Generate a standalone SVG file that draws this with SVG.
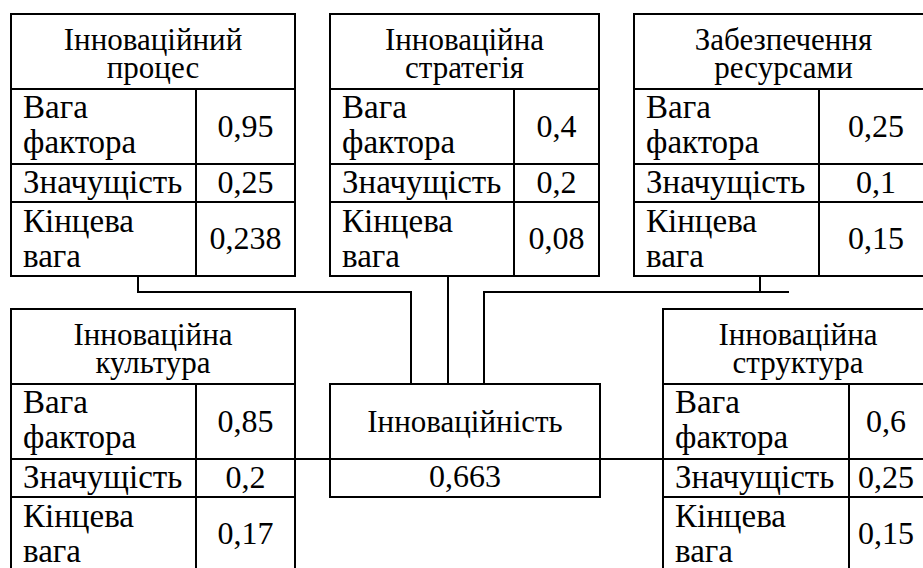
<svg xmlns="http://www.w3.org/2000/svg" width="923" height="568" viewBox="0 0 923 568">
  <style>
    .box { fill: #fff; stroke: #000; stroke-width: 2; }
    .rule { stroke: #000; stroke-width: 2; fill: none; }
    .wire { stroke: #000; stroke-width: 2; fill: none; }
    text { font-family: "Liberation Serif", "Times New Roman", serif; font-size: 33px; fill: #000; }
    .h { text-anchor: middle; font-size: 31px; }
    .c { text-anchor: middle; font-size: 32px; }
  </style>
  <rect width="923" height="568" fill="#fff"/>

  <!-- connectors -->
  <g id="connectors">
    <path class="wire" d="M138 276 V292 H411 V384"/>
    <path class="wire" d="M448 276 V384"/>
    <path class="wire" d="M760 276 V292"/>
    <path class="wire" d="M789 292 H484 V384"/>
    <path class="wire" d="M295 459 H663"/>
  </g>

  <!-- Інноваційний процес -->
  <g id="process">
    <rect class="box" x="11" y="14" width="284" height="262"/>
    <path class="rule" d="M11 89 H295 M11 164 H295 M11 202 H295 M196 89 V276"/>
    <text class="h" x="153" y="50">Інноваційний</text>
    <text class="h" x="153" y="78">процес</text>
    <text x="23" y="118">Вага</text>
    <text x="23" y="153">фактора</text>
    <text class="c" x="245.5" y="137">0,95</text>
    <text x="23" y="193">Значущість</text>
    <text class="c" x="245.5" y="193">0,25</text>
    <text x="23" y="232">Кінцева</text>
    <text x="23" y="267">вага</text>
    <text class="c" x="245.5" y="249">0,238</text>
  </g>

  <!-- Інноваційна стратегія -->
  <g id="strategy">
    <rect class="box" x="330" y="14" width="269" height="262"/>
    <path class="rule" d="M330 89 H599 M330 164 H599 M330 202 H599 M514 89 V276"/>
    <text class="h" x="464.5" y="50">Інноваційна</text>
    <text class="h" x="464.5" y="78">стратегія</text>
    <text x="342" y="118">Вага</text>
    <text x="342" y="153">фактора</text>
    <text class="c" x="556.5" y="137">0,4</text>
    <text x="342" y="193">Значущість</text>
    <text class="c" x="556.5" y="193">0,2</text>
    <text x="342" y="232">Кінцева</text>
    <text x="342" y="267">вага</text>
    <text class="c" x="556.5" y="249">0,08</text>
  </g>

  <!-- Забезпечення ресурсами -->
  <g id="resources">
    <rect class="box" x="634" y="14" width="299" height="262"/>
    <path class="rule" d="M634 89 H933 M634 164 H933 M634 202 H933 M819 89 V276"/>
    <text class="h" x="783.5" y="50">Забезпечення</text>
    <text class="h" x="783.5" y="78">ресурсами</text>
    <text x="646" y="118">Вага</text>
    <text x="646" y="153">фактора</text>
    <text class="c" x="876" y="137">0,25</text>
    <text x="646" y="193">Значущість</text>
    <text class="c" x="876" y="193">0,1</text>
    <text x="646" y="232">Кінцева</text>
    <text x="646" y="267">вага</text>
    <text class="c" x="876" y="249">0,15</text>
  </g>

  <!-- Інноваційна культура -->
  <g id="culture">
    <rect class="box" x="11" y="309" width="284" height="262"/>
    <path class="rule" d="M11 384 H295 M11 459 H295 M11 497 H295 M196 384 V571"/>
    <text class="h" x="153" y="345">Інноваційна</text>
    <text class="h" x="153" y="373">культура</text>
    <text x="23" y="413">Вага</text>
    <text x="23" y="448">фактора</text>
    <text class="c" x="245.5" y="432">0,85</text>
    <text x="23" y="488">Значущість</text>
    <text class="c" x="245.5" y="488">0,2</text>
    <text x="23" y="527">Кінцева</text>
    <text x="23" y="562">вага</text>
    <text class="c" x="245.5" y="544">0,17</text>
  </g>

  <!-- Інноваційність -->
  <g id="innovativeness">
    <rect class="box" x="330" y="384" width="270" height="113"/>
    <path class="rule" d="M330 459 H600"/>
    <text class="h" x="465" y="432">Інноваційність</text>
    <text class="c" x="465" y="487">0,663</text>
  </g>

  <!-- Інноваційна структура -->
  <g id="structure">
    <rect class="box" x="663" y="309" width="270" height="262"/>
    <path class="rule" d="M663 384 H933 M663 459 H933 M663 497 H933 M849 384 V571"/>
    <text class="h" x="798" y="345">Інноваційна</text>
    <text class="h" x="798" y="373">структура</text>
    <text x="675" y="413">Вага</text>
    <text x="675" y="448">фактора</text>
    <text class="c" x="886" y="432">0,6</text>
    <text x="675" y="488">Значущість</text>
    <text class="c" x="886" y="488">0,25</text>
    <text x="675" y="527">Кінцева</text>
    <text x="675" y="562">вага</text>
    <text class="c" x="886" y="544">0,15</text>
  </g>
</svg>
